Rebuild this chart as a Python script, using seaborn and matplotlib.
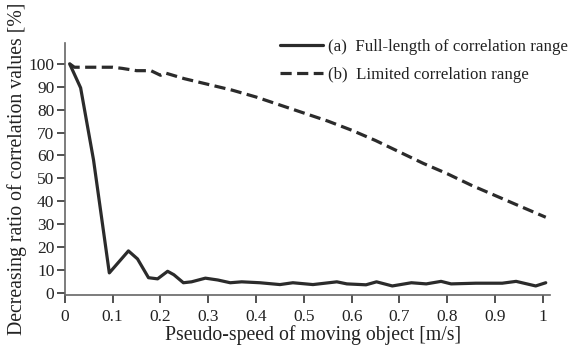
import numpy as np
import pandas as pd
import matplotlib
matplotlib.use("Agg")
import matplotlib.pyplot as plt
import seaborn as sns

# ---- data ----
full_x = [0.01, 0.033, 0.06, 0.093, 0.133, 0.152, 0.175, 0.194, 0.215, 0.228, 0.248,
          0.265, 0.294, 0.32, 0.346, 0.37, 0.408, 0.45, 0.477, 0.519, 0.569, 0.59,
          0.63, 0.652, 0.685, 0.725, 0.756, 0.787, 0.808, 0.86, 0.915, 0.944, 0.985, 1.006]
full_y = [100, 89.5, 58, 8.7, 18.3, 14.8, 6.6, 6.1, 9.4, 7.9, 4.4,
          4.8, 6.4, 5.6, 4.4, 4.8, 4.4, 3.6, 4.4, 3.6, 4.8, 3.9,
          3.5, 4.8, 3.0, 4.4, 3.9, 5.0, 3.9, 4.2, 4.2, 5.0, 3.0, 4.4]

lim_x = [0.01, 0.02, 0.05, 0.1, 0.12, 0.15, 0.18, 0.2, 0.21, 0.25, 0.3, 0.35, 0.4,
         0.45, 0.5, 0.55, 0.6, 0.65, 0.7, 0.75, 0.8, 0.85, 0.9, 0.95, 1.006]
lim_y = [100, 98.5, 98.5, 98.5, 98, 97, 97, 95, 96, 93.5, 91, 88.5, 85.5,
         82, 78.5, 75, 71, 66.5, 61.5, 56.5, 52, 47, 42.5, 38, 33]

labels = ["(a)  Full-length of correlation range", "(b)  Limited correlation range"]
x_ticks = [0, 0.1, 0.2, 0.3, 0.4, 0.5, 0.6, 0.7, 0.8, 0.9, 1]
x_ticklabels = ["0", "0.1", "0.2", "0.3", "0.4", "0.5", "0.6", "0.7", "0.8", "0.9", "1"]
y_ticks = [0, 10, 20, 30, 40, 50, 60, 70, 80, 90, 100]
x_label = "Pseudo-speed of moving object [m/s]"
y_label = "Decreasing ratio of correlation values [%]"

df_full = pd.DataFrame({"x": full_x, "y": full_y})
df_lim = pd.DataFrame({"x": lim_x, "y": lim_y})

sns.set_theme(style="white")
plt.rcParams["font.family"] = ["Liberation Serif", "DejaVu Serif"]

fig = plt.figure(figsize=(5.79, 3.54), dpi=100)
ax = fig.add_axes([0.112, 0.167, 0.838, 0.711])

line_col = "#2b2b2b"
sns.lineplot(data=df_full, x="x", y="y", ax=ax, color=line_col, lw=2.3,
             label=labels[0], sort=False)
sns.lineplot(data=df_lim, x="x", y="y", ax=ax, color=line_col, lw=2.3,
             label=labels[1], sort=False)
lines = ax.get_lines()
lines[1].set_dashes((3.5, 1.7))

ax.set_xlim(0, 1.015)
ax.set_ylim(-0.9, 109)
ax.set_xticks(x_ticks)
ax.set_xticklabels(x_ticklabels)
ax.set_yticks(y_ticks)
ax.tick_params(axis="both", direction="out", length=6, width=1.2, color="#333333",
               labelsize=12.5, labelcolor="#222222", pad=1.5, bottom=True, left=True)
ax.tick_params(axis="x", pad=4)
for s in ["top", "right"]:
    ax.spines[s].set_visible(False)
for s in ["left", "bottom"]:
    ax.spines[s].set_color("#666666")
    ax.spines[s].set_linewidth(1.2)

ax.set_xlabel(x_label, fontsize=14.2, color="#222222", labelpad=0)
ax.xaxis.label.set_x(0.512)
ax.set_ylabel(y_label, fontsize=14.2, color="#222222", labelpad=1)

h, l = ax.get_legend_handles_labels()
ax.legend(h, l, loc="upper left", bbox_to_anchor=(0.43, 1.045), frameon=False,
          fontsize=12.2, handlelength=2.5, handletextpad=0.3, labelspacing=0.75,
          borderaxespad=0.0, labelcolor="#222222")
ax.set_facecolor("white")

fig.savefig("out.png", dpi=100)
